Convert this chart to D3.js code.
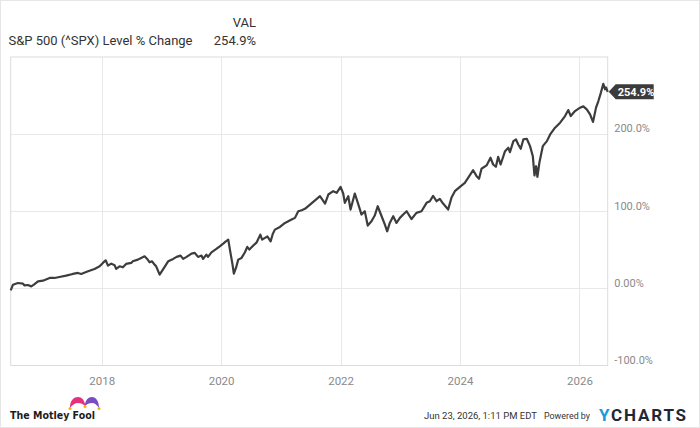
<!DOCTYPE html>
<html>
<head>
<meta charset="utf-8">
<script src="https://cdn.jsdelivr.net/npm/d3@7"></script>
<style>
  html, body { margin: 0; padding: 0; background: #fff; }
  svg { display: block; font-family: Roboto, "Liberation Sans", sans-serif; }
</style>
</head>
<body>
<div id="chart"></div>
<script>
// Series: S&P 500 level % change
var dates = ["2016-06-23","2016-07-07","2016-08-06","2016-09-06","2016-09-16","2016-10-06","2016-10-27","2016-11-12","2016-12-07",
  "2017-01-06","2017-02-16","2017-03-18","2017-04-17","2017-05-28","2017-07-08","2017-08-08","2017-08-28","2017-10-09","2017-11-18","2017-12-19",
  "2018-01-08","2018-01-25","2018-02-08","2018-02-28","2018-03-21","2018-03-30","2018-04-20","2018-05-10","2018-05-30","2018-06-30","2018-07-10",
  "2018-08-10","2018-08-30","2018-09-20","2018-10-06","2018-10-21","2018-11-04","2018-11-20","2018-11-30","2018-12-21",
  "2019-01-10","2019-02-12","2019-03-14","2019-04-04","2019-04-28","2019-05-14","2019-06-04","2019-07-04","2019-07-24","2019-08-13",
  "2019-09-03","2019-09-13","2019-10-03","2019-10-13","2019-11-03","2019-12-03","2019-12-24",
  "2020-01-14","2020-01-30","2020-02-14","2020-02-24","2020-03-11","2020-03-19","2020-04-01","2020-04-15","2020-05-05","2020-05-26",
  "2020-06-09","2020-06-22","2020-07-16","2020-08-06","2020-08-28","2020-09-08","2020-09-26","2020-10-10","2020-10-30","2020-11-12",
  "2020-11-25","2020-12-26",
  "2021-01-26","2021-02-15","2021-03-07","2021-03-28","2021-04-17","2021-05-08","2021-05-28","2021-06-28","2021-08-28","2021-09-28",
  "2021-10-18","2021-11-17","2021-12-08",
  "2022-01-01","2022-01-17","2022-01-27","2022-02-17","2022-03-03","2022-03-29","2022-04-18","2022-05-09","2022-05-29","2022-06-16",
  "2022-07-09","2022-07-29","2022-08-16","2022-09-09","2022-09-29","2022-10-13","2022-10-29","2022-11-19","2022-12-09","2022-12-30",
  "2023-01-19","2023-02-09","2023-03-11","2023-04-10","2023-05-11","2023-06-11","2023-07-01","2023-07-21","2023-08-11","2023-08-31",
  "2023-09-20","2023-10-21","2023-11-10","2023-12-01",
  "2024-01-01","2024-01-31","2024-02-20","2024-03-22","2024-04-12","2024-04-27","2024-05-12","2024-06-12","2024-07-06","2024-07-22",
  "2024-08-08","2024-08-22","2024-09-06","2024-10-03","2024-10-23","2024-11-02","2024-11-23","2024-12-09","2024-12-23",
  "2025-01-07","2025-01-23","2025-02-13","2025-03-05","2025-03-22","2025-04-01","2025-04-11","2025-04-19","2025-05-01","2025-05-22",
  "2025-06-16","2025-07-06","2025-08-05","2025-09-05","2025-10-05","2025-10-25","2025-11-09","2025-12-05",
  "2026-01-05","2026-01-25","2026-02-15","2026-03-07","2026-03-25","2026-04-13","2026-04-27","2026-05-13","2026-05-27","2026-06-07",
  "2026-06-13","2026-06-23"];
var pctChange = [-2.6,4.8,7.0,6.1,3.9,4.4,2.6,4.8,9.1,
  10.0,13.5,13.5,14.8,16.5,18.7,20.0,18.7,22.1,25.2,28.6,
  33.0,36.4,29.5,32.1,29.9,25.2,28.6,27.3,31.7,33.0,35.1,
  37.3,39.5,41.6,38.2,33.8,35.1,30.8,28.6,17.8,
  24.3,35.3,38.2,40.8,42.5,38.2,40.8,45.1,46.0,40.8,
  42.5,38.2,43.8,40.8,46.8,51.2,54.5,
  58.1,61.0,63.2,50.3,30.8,19.1,26.5,37.3,39.5,46.8,
  53.8,50.3,55.5,59.7,69.7,63.2,65.5,67.3,61.0,70.5,
  76.2,79.7,
  84.9,87.0,89.2,91.4,100.0,101.3,103.1,108.7,119.5,110.0,
  121.7,126.0,123.9,
  131.7,123.0,110.9,119.5,102.2,123.0,110.0,95.7,100.0,81.4,
  87.0,94.4,106.5,93.5,82.7,74.0,84.9,93.5,84.9,91.4,
  95.7,100.0,89.9,97.9,100.0,110.9,113.0,120.0,113.0,116.1,
  110.0,102.2,117.4,126.0,
  131.7,136.9,143.4,153.2,145.5,142.1,155.1,159.4,169.4,160.6,
  157.7,170.6,160.6,177.9,182.3,176.6,190.9,193.1,186.6,
  181.0,193.1,194.0,184.4,171.4,146.4,158.4,144.7,162.9,184.4,
  190.9,199.6,208.3,214.8,223.4,231.2,223.4,229.9,
  234.3,236.0,232.1,225.6,215.8,234.7,242.9,254.2,265.2,258.1,
  260.6,254.9];

// Axes
var yTicks = [-100, 0, 100, 200];
var yTickLabels = ["-100.0%", "0.00%", "100.0%", "200.0%"];
var xTickYears = ["2018", "2020", "2022", "2024", "2026"];

var seriesName = "S&P 500 (^SPX) Level % Change";
var lastLabel = "254.9%";

// Dimensions
var outerWidth = 700;
var outerHeight = 428;
var plotLeft = 10.7;
var plotRight = 607.7;
var plotTop = 57;
var plotBottom = 365.5;

var parseDate = d3.timeParse("%Y-%m-%d");
var data = dates.map(function(d, i) { return { date: parseDate(d), value: pctChange[i] }; });

var svg = d3.select("#chart").append("svg")
  .attr("width", outerWidth)
  .attr("height", outerHeight);

// outer frame
svg.append("rect")
  .attr("x", 0.5).attr("y", 0.5)
  .attr("width", outerWidth - 1).attr("height", outerHeight - 1)
  .attr("fill", "#fff").attr("stroke", "#e6e6e6");

var xScale = d3.scaleTime()
  .domain(d3.extent(data, function(d) { return d.date; }))
  .range([plotLeft, plotRight]);
var yScale = d3.scaleLinear().domain([-100, 300]).range([plotBottom, plotTop]);

var xTickDates = xTickYears.map(function(y) { return parseDate(y + "-01-01"); });

// gridlines
var grid = svg.append("g").attr("stroke", "#e8e8e8").attr("stroke-width", 1);
grid.selectAll("line.h").data(yTicks.filter(function(t) { return t > -100; })).enter().append("line")
  .attr("x1", plotLeft).attr("x2", plotRight)
  .attr("y1", function(d) { return Math.round(yScale(d)) + 0.5; })
  .attr("y2", function(d) { return Math.round(yScale(d)) + 0.5; });
grid.selectAll("line.v").data(xTickDates).enter().append("line")
  .attr("y1", plotTop).attr("y2", plotBottom)
  .attr("x1", function(d) { return Math.round(xScale(d)) + 0.5; })
  .attr("x2", function(d) { return Math.round(xScale(d)) + 0.5; });

// plot frame
svg.append("rect")
  .attr("x", plotLeft).attr("y", plotTop)
  .attr("width", plotRight - plotLeft).attr("height", plotBottom - plotTop)
  .attr("fill", "none").attr("stroke", "#dcdcdc");

// right axis
var yAxis = d3.axisRight(yScale)
  .tickValues(yTicks)
  .tickSize(0)
  .tickFormat(function(d, i) { return yTickLabels[i]; });
var yAxisG = svg.append("g").attr("transform", "translate(" + (plotRight + 6.5) + ",0)").call(yAxis);
yAxisG.select(".domain").remove();
yAxisG.selectAll("text")
  .attr("x", 0).attr("dy", "-0.2em")
  .attr("fill", "#8a8a8a").style("font-size", "11px")
  .attr("font-family", "Roboto, sans-serif");

// bottom axis
var xAxis = d3.axisBottom(xScale)
  .tickValues(xTickDates)
  .tickSize(0)
  .tickFormat(function(d, i) { return xTickYears[i]; });
var xAxisG = svg.append("g").attr("transform", "translate(0," + plotBottom + ")").call(xAxis);
xAxisG.select(".domain").remove();
xAxisG.selectAll("text")
  .attr("y", 11).attr("dy", "0.71em")
  .attr("fill", "#8a8a8a").style("font-size", "11.5px")
  .attr("font-family", "Roboto, sans-serif");

// line
var line = d3.line()
  .x(function(d) { return xScale(d.date); })
  .y(function(d) { return yScale(d.value); });
svg.append("path")
  .datum(data)
  .attr("d", line)
  .attr("fill", "none")
  .attr("stroke", "#3d3d3d")
  .attr("stroke-width", 2.2)
  .attr("stroke-linejoin", "round");

// end value tag
var last = data[data.length - 1];
var ly = yScale(last.value);
var tag = svg.append("g").attr("transform", "translate(" + (plotRight + 1) + "," + ly + ")");
tag.append("path")
  .attr("d", "M0,0 L7,-7.5 L45,-7.5 L45,7.5 L7,7.5 Z")
  .attr("fill", "#3b3b3b");
tag.append("text")
  .attr("x", 9).attr("y", 4)
  .attr("fill", "#fff").style("font-size", "11px").style("font-weight", "bold")
  .text(lastLabel);

// header
svg.append("text").attr("x", 256).attr("y", 26.5).attr("text-anchor", "end")
  .attr("fill", "#333").style("font-size", "13px").text("VAL");
svg.append("text").attr("x", 8.5).attr("y", 44.5)
  .attr("fill", "#333").style("font-size", "13px").text(seriesName);
svg.append("text").attr("x", 256).attr("y", 44.5).attr("text-anchor", "end")
  .attr("fill", "#333").style("font-size", "13px").text(lastLabel);

// footer: Motley Fool logo
var fool = svg.append("g");
fool.append("text").attr("x", 10).attr("y", 418.5)
  .attr("fill", "#1c1c1c").style("font-size", "11px").style("font-weight", "bold")
  .attr("font-family", "'DejaVu Sans', sans-serif")
  .attr("textLength", 85).attr("lengthAdjust", "spacingAndGlyphs")
  .text("The Motley Fool");
// jester hat
fool.append("path")
  .attr("d", "M70,408 C70,401 73,397 78,397 C82,397 84,400 85,404 L85,406 C83,404 81,403 78,403 C75,403 72,405 70,408 Z")
  .attr("fill", "#e5307f");
fool.append("path")
  .attr("d", "M85,404 C86,400 88,397 92,397 C96,397 99,401 99,408 C97,405 95,403 92,403 C89,403 87,404 85,406 Z")
  .attr("fill", "#7a4cc2");
fool.selectAll("circle").data([[70, 408.5], [85, 406.5], [99, 408.5]]).enter().append("circle")
  .attr("cx", function(d) { return d[0]; }).attr("cy", function(d) { return d[1]; })
  .attr("r", 1.5).attr("fill", "#f2b705");

// footer: timestamp + YCharts
svg.append("text").attr("x", 424).attr("y", 418.5)
  .attr("fill", "#333").style("font-size", "9.5px")
  .attr("textLength", 113).attr("lengthAdjust", "spacingAndGlyphs")
  .text("Jun 23, 2026, 1:11 PM EDT");
svg.append("text").attr("x", 544).attr("y", 418.5)
  .attr("fill", "#333").style("font-size", "9.5px")
  .attr("textLength", 46).attr("lengthAdjust", "spacingAndGlyphs")
  .text("Powered by");
var yc = svg.append("text").attr("x", 599).attr("y", 420.5)
  .style("font-size", "17px").style("font-weight", "bold").style("letter-spacing", "1.8px");
yc.append("tspan").attr("fill", "#1d9ad6").text("Y");
yc.append("tspan").attr("fill", "#1e2833").text("CHARTS");
</script>
</body>
</html>
